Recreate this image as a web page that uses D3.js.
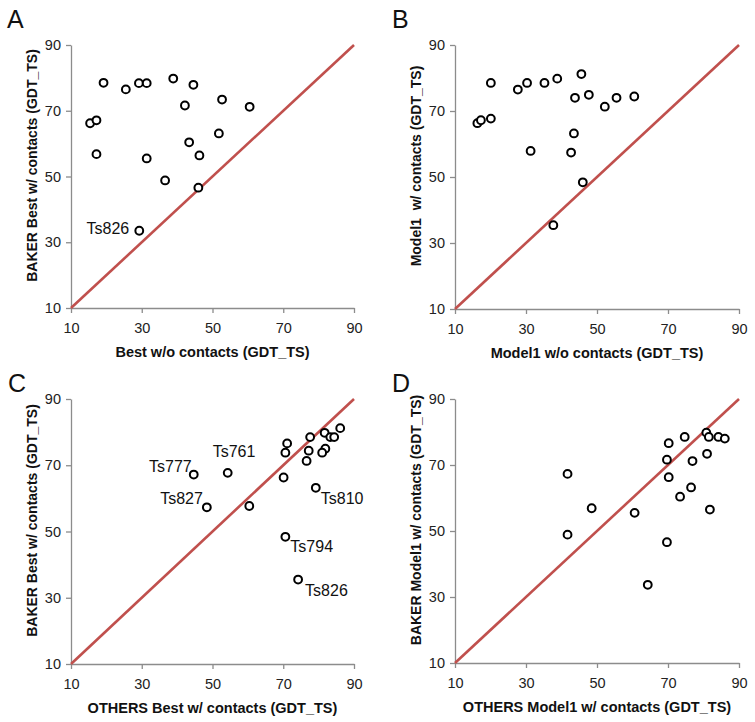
<!DOCTYPE html>
<html><head><meta charset="utf-8">
<script src="https://cdn.jsdelivr.net/npm/d3@7"></script>
<style>
body{margin:0;background:#fff}
svg{display:block}
text{font-family:"Liberation Sans",Arial,Helvetica,sans-serif}
</style>
</head><body>
<svg id="chart" width="755" height="722"></svg>
<script>
// ---- data ----
const tickValues = [10, 30, 50, 70, 90];
const domainMin = 10, domainMax = 90;
const panelLetters = ["A", "B", "C", "D"];
const xTitles = ["Best w/o contacts (GDT_TS)", "Model1 w/o contacts (GDT_TS)",
                 "OTHERS Best w/ contacts (GDT_TS)", "OTHERS Model1 w/ contacts (GDT_TS)"];
const yTitles = ["BAKER Best w/ contacts (GDT_TS)", "Model1  w/ contacts (GDT_TS)",
                 "BAKER Best w/ contacts (GDT_TS)", "BAKER Model1 w/ contacts (GDT_TS)"];

const aX = [19.2, 25.5, 29.2, 31.4, 38.9, 44.6, 52.7, 42.2, 60.5, 15.4, 17.2, 51.8, 43.4, 17.2, 31.4, 46.3, 36.6, 46.0, 29.3];
const aY = [78.5, 76.5, 78.4, 78.4, 79.8, 77.9, 73.4, 71.6, 71.2, 66.2, 67.1, 63.1, 60.4, 56.8, 55.5, 56.4, 48.8, 46.6, 33.5];

const bX = [20.1, 16.3, 17.3, 20.1, 27.7, 30.3, 35.2, 38.8, 45.6, 43.8, 47.7, 52.2, 55.5, 60.5, 43.5, 31.3, 42.7, 46.0, 37.7];
const bY = [78.5, 66.3, 67.2, 67.7, 76.5, 78.5, 78.5, 79.8, 81.2, 74.0, 74.9, 71.3, 74.0, 74.4, 63.2, 57.9, 57.4, 48.4, 35.4];

const cX = [86.1, 81.7, 83.3, 84.4, 77.6, 71.1, 70.6, 77.2, 81.9, 81.0, 76.6, 70.1, 79.2, 44.7, 54.3, 48.4, 60.4, 70.6, 74.2];
const cY = [81.2, 79.8, 78.5, 78.5, 78.5, 76.6, 73.8, 74.4, 75.0, 73.8, 71.3, 66.3, 63.2, 67.2, 67.7, 57.3, 57.7, 48.4, 35.5];

const dX = [80.8, 81.5, 84.2, 86.0, 74.7, 70.2, 69.7, 76.9, 81.0, 70.2, 76.5, 73.4, 81.8, 41.7, 48.5, 60.6, 41.7, 69.7, 64.3];
const dY = [79.8, 78.5, 78.5, 78.0, 78.5, 76.6, 71.6, 71.2, 73.4, 66.3, 63.2, 60.4, 56.5, 67.3, 56.9, 55.5, 48.9, 46.6, 33.7];

// point labels: name and index of the labelled point
const aLabelNames = ["Ts826"];
const aLabelIdx = [18];
const cLabelNames = ["Ts810", "Ts777", "Ts761", "Ts827", "Ts794", "Ts826"];
const cLabelIdx = [12, 13, 14, 15, 17, 18];

// ---- layout (not data) ----
const frames = [
  {x0: 71,  x1: 354, y0: 308, y1: 45,  lx: 7,   ly: 28},
  {x0: 455, x1: 739, y0: 309, y1: 45,  lx: 392, ly: 28},
  {x0: 71,  x1: 354, y0: 664, y1: 399, lx: 8,   ly: 392},
  {x0: 455, x1: 739, y0: 663, y1: 399, lx: 392, ly: 392}
];
const labelStyle = {
  "Ts826A": {anchor: "end",   dx: -10, dy: 3},
  "Ts810":  {anchor: "start", dx: 5,   dy: 16},
  "Ts777":  {anchor: "end",   dx: -2,  dy: -3},
  "Ts761":  {anchor: "start", dx: -15, dy: -16},
  "Ts827":  {anchor: "end",   dx: -4,  dy: -3},
  "Ts794":  {anchor: "start", dx: 5,   dy: 15},
  "Ts826C": {anchor: "start", dx: 7,   dy: 16}
};

const panels = [
  {xs: aX, ys: aY, names: aLabelNames, idx: aLabelIdx, key: "A"},
  {xs: bX, ys: bY, names: [], idx: [], key: "B"},
  {xs: cX, ys: cY, names: cLabelNames, idx: cLabelIdx, key: "C"},
  {xs: dX, ys: dY, names: [], idx: [], key: "D"}
];

const svg = d3.select("#chart");
const axisColor = "#8c8c8c";
const lineColor = "#c0504d";

panels.forEach((p, i) => {
  const f = frames[i];
  const x = d3.scaleLinear().domain([domainMin, domainMax]).range([f.x0, f.x1]);
  const y = d3.scaleLinear().domain([domainMin, domainMax]).range([f.y0, f.y1]);
  const g = svg.append("g");

  // axes
  const xa = g.append("g").attr("transform", `translate(0,${f.y0})`)
    .call(d3.axisBottom(x).tickValues(tickValues).tickSize(5).tickPadding(10).tickSizeOuter(0));
  const ya = g.append("g").attr("transform", `translate(${f.x0},0)`)
    .call(d3.axisLeft(y).tickValues(tickValues).tickSize(5).tickPadding(5).tickSizeOuter(0));
  [xa, ya].forEach(a => {
    a.select(".domain").attr("stroke", axisColor).attr("stroke-width", 1.3);
    a.selectAll(".tick line").attr("stroke", axisColor).attr("stroke-width", 1.3);
    a.selectAll(".tick text").attr("fill", "#222").style("font-size", "14.5px")
      .style("font-family", '"Liberation Sans",Arial,sans-serif');
  });

  // diagonal y = x
  g.append("line")
    .attr("x1", x(domainMin)).attr("y1", y(domainMin))
    .attr("x2", x(domainMax)).attr("y2", y(domainMax))
    .attr("stroke", lineColor).attr("stroke-width", 2.6);

  // points
  const pts = p.xs.map((v, k) => ({x: v, y: p.ys[k]}));
  g.selectAll("circle.pt").data(pts).enter().append("circle")
    .attr("class", "pt")
    .attr("cx", d => x(d.x)).attr("cy", d => y(d.y)).attr("r", 3.9)
    .attr("fill", "#fff").attr("stroke", "#000").attr("stroke-width", 2);

  // point labels
  p.names.forEach((nm, k) => {
    const d = pts[p.idx[k]];
    const st = labelStyle[nm] || labelStyle[nm + p.key];
    g.append("text")
      .attr("x", x(d.x) + st.dx).attr("y", y(d.y) + st.dy)
      .attr("text-anchor", st.anchor)
      .style("font-size", "16px").attr("fill", "#111")
      .text(nm);
  });

  // axis titles
  g.append("text")
    .attr("x", (f.x0 + f.x1) / 2).attr("y", f.y0 + 49)
    .attr("text-anchor", "middle").style("font-size", "14.5px").style("font-weight", "bold")
    .attr("fill", "#111").text(xTitles[i]);
  g.append("text")
    .attr("transform", `translate(${f.x0 - 34},${(f.y0 + f.y1) / 2 - 11}) rotate(-90)`)
    .attr("text-anchor", "middle").style("font-size", "14px").style("font-weight", "bold")
    .style("white-space", "pre")
    .attr("fill", "#111").text(yTitles[i]);

  // panel letter
  g.append("text").attr("x", f.lx).attr("y", f.ly)
    .style("font-size", "25px").attr("fill", "#111").text(panelLetters[i]);
});
</script>
</body></html>
